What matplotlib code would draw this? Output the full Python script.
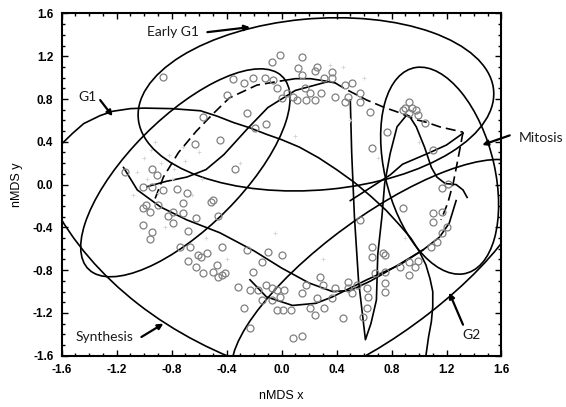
import matplotlib
matplotlib.use("Agg")
import matplotlib.pyplot as plt
from matplotlib.patches import Ellipse
from matplotlib.ticker import MultipleLocator, FormatStrFormatter

# phase ellipses: centre, width, height, angle (data units)
# order: Early G1, Synthesis, inner G1 cloud, Mitosis, G2
ell_cx = [0.25, 0.97, -0.70, 1.15, 0.72]
ell_cy = [0.75, 0.90, 0.11, 0.13, -0.85]
ell_w = [2.6, 5.7, 2.3, 1.96, 2.9]
ell_h = [1.6, 5.7, 0.9, 0.80, 1.0]
ell_ang = [7, 0, 54.5, 100, 45]

# big G1 boundary, read point by point
g1_curve = [(-1.6, 0.38), (-1.52, 0.48), (-1.44, 0.57), (-1.32, 0.645), (-1.23, 0.685), (-1.1, 0.71),
            (-1.0, 0.715), (-0.8, 0.71), (-0.59, 0.69), (-0.47, 0.64), (-0.35, 0.58), (-0.23, 0.53),
            (-0.11, 0.47), (0.0, 0.42), (0.13, 0.35), (0.27, 0.25), (0.4, 0.14), (0.53, 0.02),
            (0.65, -0.11), (0.76, -0.24), (0.86, -0.38), (0.94, -0.50), (1.0, -0.62), (1.05, -0.75),
            (1.08, -0.88), (1.10, -1.0), (1.10, -1.14), (1.09, -1.28), (1.07, -1.42), (1.05, -1.6)]

# trajectory pieces (x, y)
top_dash = [(-0.92, -0.13), (-0.86, 0.07), (-0.75, 0.30), (-0.62, 0.50), (-0.50, 0.66),
            (-0.38, 0.81), (-0.18, 0.93), (0.0, 0.97)]
top_solid = [(0.0, 0.97), (0.1, 0.99), (0.21, 0.99), (0.31, 0.97), (0.39, 0.95)]
top_dash2 = [(0.39, 0.95), (0.47, 0.89), (0.62, 0.79), (0.75, 0.72), (0.84, 0.68), (0.97, 0.61),
             (1.06, 0.58), (1.15, 0.54), (1.32, 0.49)]
right_dash = [(1.32, 0.49), (1.30, 0.35), (1.27, 0.15), (1.25, 0.02), (1.21, -0.17), (1.16, -0.33)]
spike = [(0.50, 0.79), (0.51, 0.3), (0.53, -0.3), (0.56, -0.9), (0.61, -1.45), (0.65, -1.3),
         (0.69, -1.08), (0.70, -0.65), (0.73, -0.30), (0.75, 0.01), (0.79, 0.29), (0.84, 0.54),
         (0.91, 0.65)]
wiggle = [(0.91, 0.65), (0.93, 0.64), (0.98, 0.54), (1.04, 0.35), (1.09, 0.16), (1.13, 0.07),
          (1.19, 0.01), (1.27, 0.0), (1.32, -0.05), (1.35, -0.12)]
low1 = [(-1.15, 0.16), (-1.05, -0.05), (-0.88, -0.21), (-0.69, -0.33), (-0.45, -0.45), (-0.2, -0.62),
        (0.0, -0.78), (0.2, -0.92), (0.37, -1.0), (0.5, -0.99), (0.65, -0.9), (0.85, -0.75),
        (1.03, -0.61), (1.15, -0.49), (1.22, -0.36), (1.27, -0.15)]
low2 = [(-0.23, -0.89), (-0.11, -1.05), (0.08, -1.13), (0.25, -1.11), (0.37, -1.05), (0.62, -0.89),
        (0.86, -0.75), (1.03, -0.61)]
mid = [(-0.98, -0.02), (-0.84, 0.03), (-0.69, 0.07), (-0.55, 0.14), (-0.42, 0.28), (-0.25, 0.52),
       (-0.1, 0.72), (0.1, 0.88), (0.33, 0.96)]
upper_par = [(0.50, -0.15), (0.79, 0.09), (0.88, 0.19), (1.08, 0.30), (1.20, 0.37), (1.32, 0.48)]

# sample points (open circles)
pts = [(-0.86, 1.01), (-0.35, 0.99), (-0.27, 0.95), (-0.21, 1.00), (-0.12, 1.00), (-0.06, 0.98),
       (-0.01, 1.21), (-0.07, 1.15), (0.12, 1.09), (-0.03, 0.90), (0.04, 0.86), (0.08, 0.82),
       (0.11, 0.79), (0.00, 0.81), (-0.40, 0.84), (-0.57, 0.63), (-0.25, 0.67), (-0.11, 0.57),
       (-0.19, 0.53), (-0.45, 0.42), (-0.63, 0.38), (-0.34, 0.15), (-0.94, 0.15), (-0.91, 0.09),
       (-1.01, -0.02), (-0.94, -0.02), (-0.86, -0.05), (-0.76, -0.04), (-0.69, -0.08), (-0.50, -0.14),
       (-1.14, 0.12), (-0.99, -0.19), (0.15, 1.19), (0.26, 1.10), (0.15, 1.02), (0.24, 1.06),
       (0.31, 1.00), (0.17, 0.90), (0.21, 0.86), (0.29, 0.86), (0.18, 0.79), (0.24, 0.79),
       (0.37, 1.05), (0.37, 1.00), (0.46, 0.93), (0.51, 0.95), (0.57, 0.86), (0.39, 0.82),
       (0.48, 0.82), (0.57, 0.77), (0.64, 0.68), (0.46, 0.77), (0.77, 0.49), (0.66, 0.34),
       (0.93, 0.77), (0.90, 0.72), (0.95, 0.72), (0.98, 0.70), (0.99, 0.65), (1.04, 0.58),
       (0.88, 0.70), (0.93, 0.67), (1.10, 0.32),
       (1.17, -0.03), (1.21, 0.01), (1.10, -0.27), (1.17, -0.26), (0.88, -0.22), (1.20, -0.40),
       (1.10, -0.35), (1.17, -0.45), (1.13, -0.54), (1.09, -0.58), (0.66, -0.58), (0.74, -0.64),
       (0.66, -0.68), (0.93, -0.72), (0.97, -0.77), (0.99, -0.71), (0.86, -0.77), (0.75, -0.82),
       (0.68, -0.83), (0.93, -0.85), (0.75, -0.66), (0.75, -0.92), (0.75, -1.00), (0.57, -0.33),
       (-0.51, -0.16), (-0.46, -0.29), (-0.54, -0.64), (-0.43, -0.58), (-0.47, -0.75), (-0.43, -0.85),
       (-0.50, -0.82), (-0.57, -0.83), (-0.25, -0.61), (-0.10, -0.63), (0.00, -0.66), (-0.14, -0.72),
       (-0.21, -0.82), (-0.32, -0.96), (-0.23, -0.99), (-0.27, -1.15), (-0.07, -0.97), (-0.03, -0.99),
       (0.02, -0.99), (-0.14, -1.08), (-0.07, -1.08), (-0.01, -1.05), (0.01, -1.17), (0.07, -1.17),
       (0.21, -1.15), (0.24, -1.22), (0.15, -1.01), (0.18, -0.94), (0.28, -0.86), (0.30, -0.94),
       (0.39, -0.97), (0.26, -1.06), (0.31, -1.15), (0.37, -1.06), (0.48, -0.91), (0.48, -0.97),
       (0.55, -0.94), (0.51, -1.01), (0.62, -0.97), (0.63, -1.05), (0.62, -1.15), (0.59, -1.24),
       (0.45, -1.25), (-0.23, -1.34), (0.08, -1.43), (0.15, -1.42),
       (-1.01, -0.22), (-0.90, -0.19), (-0.96, -0.26), (-0.79, -0.26), (-0.72, -0.17), (-0.83, -0.29),
       (-0.72, -0.27), (-0.62, -0.31), (-0.79, -0.36), (-1.01, -0.38), (-0.94, -0.44), (-0.96, -0.51),
       (-0.68, -0.43), (-0.74, -0.58), (-0.67, -0.58), (-0.61, -0.66), (-0.68, -0.71), (-0.59, -0.68),
       (-0.62, -0.77), (-0.41, -0.83), (-0.46, -0.86), (-0.17, -0.99), (-0.11, -0.94), (-0.03, -1.17)]

# faint grey marks
faint = [(-1.0, 0.25), (-0.95, 0.32), (-0.88, 0.20), (-0.82, 0.28), (-0.78, 0.15), (-0.70, 0.22),
         (-1.05, 0.12), (-0.98, 0.05), (-0.90, -0.08), (-0.60, 0.30), (-0.65, -0.10), (-0.30, 0.20),
         (0.35, 1.12), (0.50, 0.60), (0.60, 1.00), (0.70, 0.25), (-0.05, -0.45), (0.30, -0.70),
         (-0.55, -0.50), (0.90, -0.50), (1.00, 0.40), (-0.85, -0.40), (-0.40, -0.70), (0.10, 0.45),
         (-0.92, 0.40), (-0.80, 0.05), (-0.72, 0.35), (-1.08, -0.10), (-0.58, 0.05), (0.45, 1.10)]

labels = ["Early G1", "G1", "Synthesis", "Mitosis", "G2"]
label_x = [-0.79, -1.41, -1.29, 1.89, 1.38]
label_y = [1.425, 0.82, -1.425, 0.44, -1.41]
arr_x0 = [-0.54, -1.32, -1.02, 1.66, 1.32]
arr_y0 = [1.425, 0.79, -1.425, 0.46, -1.31]
arr_x1 = [-0.23, -1.23, -0.86, 1.46, 1.22]
arr_y1 = [1.472, 0.64, -1.30, 0.37, -1.01]

ticks = [-1.6, -1.2, -0.8, -0.4, 0.0, 0.4, 0.8, 1.2, 1.6]

fig = plt.figure(figsize=(5.66, 4.07), dpi=100)
ax = fig.add_axes([0.109, 0.126, 0.777, 0.841])

for cx, cy, w, h, a in zip(ell_cx, ell_cy, ell_w, ell_h, ell_ang):
    e = Ellipse((cx, cy), w, h, angle=a, fill=False, ec='black', lw=1.2)
    ax.add_patch(e)

solid_pieces = [g1_curve, top_solid, spike, wiggle, low1, low2, mid, upper_par]
dash_pieces = [top_dash, top_dash2, right_dash]
for p in solid_pieces:
    ax.plot([q[0] for q in p], [q[1] for q in p], color='black', lw=1.2)
for p in dash_pieces:
    ax.plot([q[0] for q in p], [q[1] for q in p], color='black', lw=1.2, ls=(0, (6, 3)))

ax.plot([q[0] for q in faint], [q[1] for q in faint], '+', color='#d4d4d4', ms=3, mew=0.6)
ax.plot([q[0] for q in pts], [q[1] for q in pts], 'o', mfc='none', mec='#808080', ms=5, mew=0.9)

for t, tx, ty, x0, y0, x1, y1 in zip(labels, label_x, label_y, arr_x0, arr_y0, arr_x1, arr_y1):
    ax.text(tx, ty, t, ha='center', va='center', fontsize=10, family='Lato', color='#1a1a1a')
    ax.annotate('', xy=(x1, y1), xytext=(x0, y0), annotation_clip=False,
                arrowprops=dict(arrowstyle='-|>', lw=1.6, color='black', mutation_scale=8,
                                shrinkA=0, shrinkB=0))

ax.set_xlim(-1.6, 1.6)
ax.set_ylim(-1.6, 1.6)
ax.set_xticks(ticks)
ax.set_yticks(ticks)
ax.xaxis.set_major_formatter(FormatStrFormatter('%.1f'))
ax.yaxis.set_major_formatter(FormatStrFormatter('%.1f'))
ax.xaxis.set_minor_locator(MultipleLocator(0.1))
ax.yaxis.set_minor_locator(MultipleLocator(0.1))
ax.tick_params(which='both', direction='in', top=True, right=True, width=1.0)
ax.tick_params(which='major', length=4.5, labelsize=8.5, pad=6)
ax.tick_params(which='minor', length=2.5)
for lab in ax.get_xticklabels() + ax.get_yticklabels():
    lab.set_family('Liberation Sans')
    lab.set_fontweight('bold')
for s in ax.spines.values():
    s.set_linewidth(1.5)

ax.set_xlabel('nMDS x', fontsize=9, family='Liberation Sans', labelpad=10)
ax.set_ylabel('nMDS y', fontsize=9, family='Liberation Sans', labelpad=7)

fig.savefig('out.png', dpi=100)
